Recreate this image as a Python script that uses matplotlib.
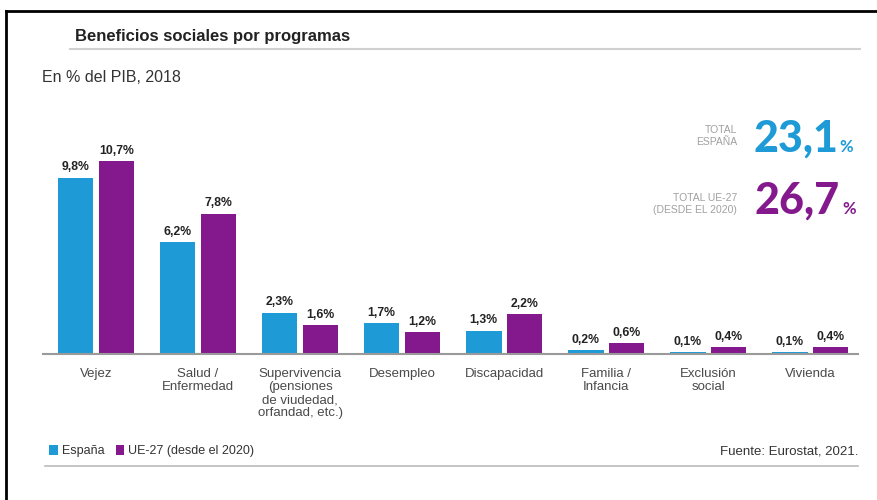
import matplotlib
matplotlib.use('Agg')
import matplotlib.pyplot as plt
from matplotlib.lines import Line2D
import numpy as np

plt.rcParams['font.family'] = ['Liberation Sans', 'DejaVu Sans']

# Data (en % del PIB, 2018)
categories = ['Vejez', 'Salud /\nEnfermedad',
              'Supervivencia\n(pensiones\nde viudedad,\norfandad, etc.)',
              'Desempleo', 'Discapacidad', 'Familia /\nInfancia',
              'Exclusión\nsocial', 'Vivienda']
espana = [9.8, 6.2, 2.3, 1.7, 1.3, 0.2, 0.1, 0.1]
ue27 = [10.7, 7.8, 1.6, 1.2, 2.2, 0.6, 0.4, 0.4]
series_names = ['España', 'UE-27 (desde el 2020)']
total_espana = '23,1'
total_ue27 = '26,7'

BLUE = '#1E9AD6'
PURPLE = '#84198D'
W, H = 878, 500


def px(x, y):
    # pixel position -> figure fraction
    return x / W, 1 - y / H


fig = plt.figure(figsize=(W / 100, H / 100), dpi=100)
fig.patch.set_facecolor('white')

# Frame lines (top and left only)
fig.add_artist(Line2D([px(6, 0)[0], 1], [px(0, 11)[1]] * 2, color='black', lw=2))
fig.add_artist(Line2D([px(6, 0)[0]] * 2, [px(0, 11)[1], 0], color='black', lw=2))

# Title and subtitle
fig.text(*px(75, 37), 'Beneficios sociales por programas', fontsize=12,
         fontweight='bold', color='#222222', va='center', ha='left')
fig.add_artist(Line2D([px(70, 0)[0], px(860, 0)[0]], [px(0, 49)[1]] * 2,
                      color='#d0d0d0', lw=1.5))
fig.text(*px(42, 78), 'En % del PIB, 2018', fontsize=11.5, color='#333333',
         va='center', ha='left')

# Bars
ax = fig.add_axes([43 / W, 1 - 354 / H, 815 / W, 216 / H])
x = np.arange(len(categories))
bw = 0.35
b1 = ax.bar(x - 0.2, espana, bw, color=BLUE, label=series_names[0])
b2 = ax.bar(x + 0.2, ue27, bw, color=PURPLE, label=series_names[1])

for bars, vals in ((b1, espana), (b2, ue27)):
    for rect, v in zip(bars, vals):
        ax.annotate(f'{v:.1f}'.replace('.', ',') + '%',
                    (rect.get_x() + rect.get_width() / 2, v),
                    xytext=(0, 3), textcoords='offset points',
                    ha='center', va='bottom', fontsize=8.8,
                    fontweight='bold', color='#222222')

ax.set_xlim(-0.52, 7.47)
ax.set_ylim(0, 12)
ax.set_xticks(x)
ax.set_xticklabels(categories, fontsize=9.5, color='#4a4a4a', linespacing=1.12)
ax.tick_params(axis='x', length=0, pad=10)
ax.set_yticks([])
for s in ('top', 'right', 'left'):
    ax.spines[s].set_visible(False)
ax.spines['bottom'].set_color('#9a9a9a')
ax.spines['bottom'].set_linewidth(1.5)

# Totals box
fig.text(*px(737, 136), 'TOTAL\nESPAÑA', fontsize=7.5, color='#a0a0a0',
         ha='right', va='center', multialignment='right', linespacing=1.3)
fig.text(*px(838, 152), total_espana, fontsize=31, fontweight='black',
         color=BLUE, ha='right', va='baseline', family='Lato')
fig.text(*px(839, 152), '%', fontsize=12, fontweight='bold',
         color=BLUE, ha='left', va='baseline', family='Lato')

fig.text(*px(737, 204), 'TOTAL UE-27\n(DESDE EL 2020)', fontsize=7.5,
         color='#a0a0a0', ha='right', va='center', multialignment='right',
         linespacing=1.3)
fig.text(*px(840, 214), total_ue27, fontsize=31, fontweight='black',
         color=PURPLE, ha='right', va='baseline', family='Lato')
fig.text(*px(842, 214), '%', fontsize=12, fontweight='bold',
         color=PURPLE, ha='left', va='baseline', family='Lato')

# Legend and source
fig.legend(handles=[b1, b2], labels=series_names, loc='center left',
           bbox_to_anchor=px(38, 451), ncol=2, frameon=False, fontsize=9,
           handlelength=0.7, handleheight=0.9, handletextpad=0.3,
           columnspacing=0.9, labelcolor='#333333')
fig.text(*px(858, 451), 'Fuente: Eurostat, 2021.', fontsize=9.5,
         color='#333333', ha='right', va='center')
fig.add_artist(Line2D([px(45, 0)[0], px(858, 0)[0]], [px(0, 466)[1]] * 2,
                      color='#bbbbbb', lw=1.2))

fig.savefig('out.png', dpi=100)
